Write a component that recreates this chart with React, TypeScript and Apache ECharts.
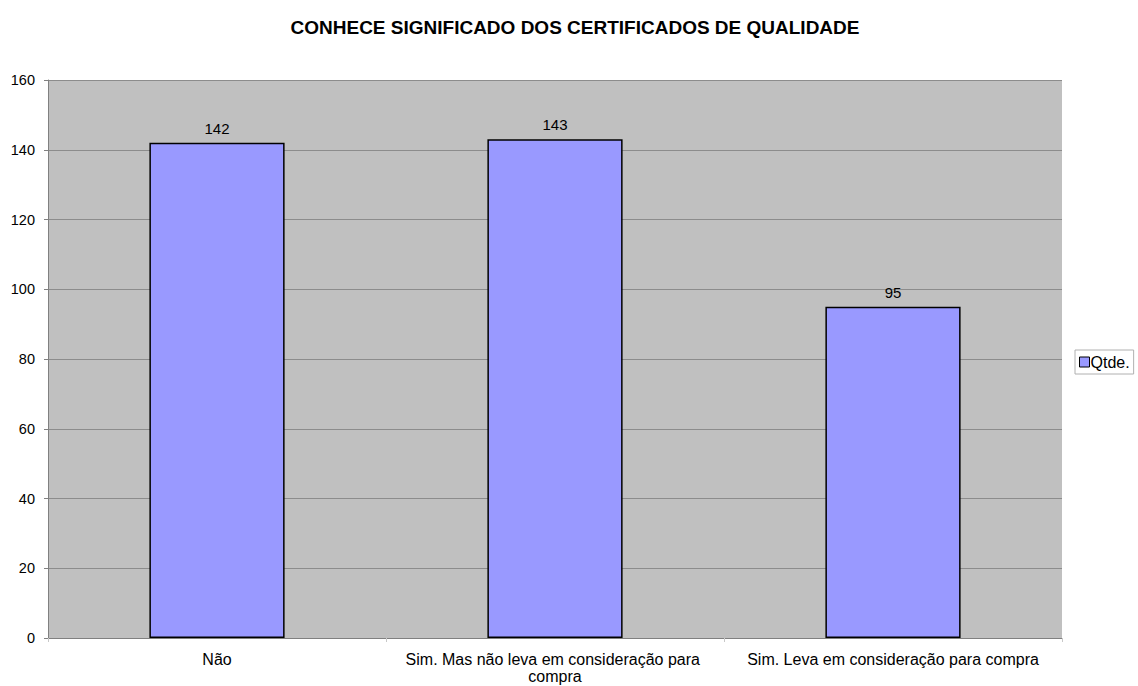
import React, { useEffect, useRef } from "react";
import * as echarts from "echarts";

const title = "CONHECE SIGNIFICADO DOS CERTIFICADOS DE QUALIDADE";
const categories = [
  "Não",
  "Sim. Mas não leva em consideração para compra",
  "Sim. Leva em consideração para compra",
];
const seriesName = "Qtde.";
const values = [142, 143, 95];

export default function App() {
  const ref = useRef<HTMLDivElement>(null);
  useEffect(() => {
    if (!ref.current) return;
    const chart = echarts.init(ref.current, null, { renderer: "svg" });
    const font = "Liberation Sans, Arial, sans-serif";
    chart.setOption({
      animation: false,
      backgroundColor: "#ffffff",
      title: {
        text: title,
        left: 570,
        textAlign: "center",
        top: 13,
        textStyle: { fontFamily: font, fontSize: 19, fontWeight: "bold", color: "#000" },
      },
      legend: {
        data: [seriesName],
        orient: "vertical",
        left: 1075,
        top: 350,
        itemWidth: 10,
        itemHeight: 10,
        itemGap: 0,
        padding: [4, 4, 4, 4],
        backgroundColor: "#ffffff",
        borderColor: "#b0b0b0",
        borderWidth: 1,
        borderRadius: 0,
        icon: "rect",
        textStyle: { fontFamily: font, fontSize: 16, color: "#000", padding: [0, 0, 0, -4] },
        itemStyle: { borderColor: "#000", borderWidth: 1 },
      },
      grid: { left: 48, right: 76, top: 80, bottom: 48, containLabel: false, show: true, backgroundColor: "#c0c0c0", borderWidth: 0 },
      xAxis: {
        type: "category",
        data: categories,
        axisLine: { show: true, lineStyle: { color: "#808080", width: 1 } },
        axisTick: { show: true, alignWithLabel: false, length: 4, lineStyle: { color: "#c8c8c8" } },
        axisLabel: {
          fontFamily: font,
          fontSize: 16,
          color: "#000",
          margin: 13,
          width: 330,
          overflow: "break",
          lineHeight: 17,
          interval: 0,
        },
      },
      yAxis: {
        type: "value",
        min: 0,
        max: 160,
        interval: 20,
        axisLine: { show: true, lineStyle: { color: "#808080", width: 1 } },
        axisTick: { show: true, length: 4, lineStyle: { color: "#808080" } },
        axisLabel: { fontFamily: font, fontSize: 14.5, color: "#000", margin: 13 },
        splitLine: { show: true, lineStyle: { color: "#8c8c8c", width: 1 } },
      },
      series: [
        {
          name: seriesName,
          type: "bar",
          data: values,
          barWidth: "40%",
          itemStyle: { color: "#9999ff", borderColor: "#000000", borderWidth: 1.5 },
          label: {
            show: true,
            position: "top",
            distance: 7,
            fontFamily: font,
            fontSize: 15,
            color: "#000",
          },
        },
      ],
    });
    return () => chart.dispose();
  }, []);
  return (
    <div
      ref={ref}
      style={{ position: "fixed", left: 0, top: 0, width: 1138, height: 686 }}
    />
  );
}
